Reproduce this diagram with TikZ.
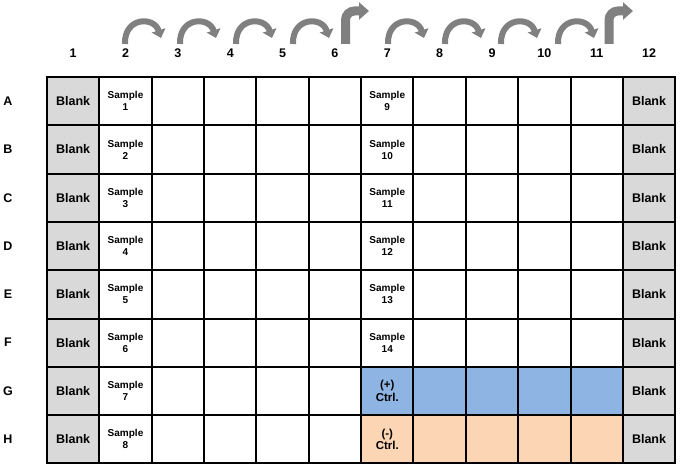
\documentclass[tikz,border=0pt]{standalone}
\usepackage{fontspec}
\setmainfont{Liberation Sans}
\usetikzlibrary{arrows.meta}
\definecolor{blankgray}{RGB}{217,217,217}
\definecolor{ctrlblue}{RGB}{142,180,227}
\definecolor{ctrlpeach}{RGB}{252,213,181}
\definecolor{arrowgray}{RGB}{128,128,128}
\tikzset{
  cell/.style={draw=black,line width=2pt,minimum width=52.35pt,minimum height=48.3pt,inner sep=0pt,outer sep=0pt,align=center,font=\fontsize{12.5}{14}\selectfont\bfseries},
  blankcell/.style={cell,fill=blankgray},
  samplecell/.style={cell,fill=white,font=\fontsize{10}{12}\selectfont\bfseries},
  pluscell/.style={cell,fill=ctrlblue,font=\fontsize{11.5}{12.5}\selectfont\bfseries},
  minuscell/.style={cell,fill=ctrlpeach,font=\fontsize{11.5}{12.5}\selectfont\bfseries},
  emptycell/.style={cell,fill=white},
  axislabel/.style={font=\fontsize{12.5}{14}\selectfont\bfseries,inner sep=0pt},
  curvearrow/.style={draw=arrowgray,line width=6pt,-{Triangle[width=14pt,length=8pt]}},
  bentarrow/.style={draw=arrowgray,line width=9pt,rounded corners=9pt,-{Triangle[width=17pt,length=10pt]}}
}
\begin{document}
\begin{tikzpicture}[x=1pt,y=-1pt]
\useasboundingbox (0,0) rectangle (680,468);
% column labels
\foreach \c in {1,...,12}{
  \node[axislabel] (col\c) at ({47+(\c-0.5)*52.35},53) {\c};
}
% row labels
\foreach \R [count=\r] in {A,B,C,D,E,F,G,H}{
  \node[axislabel] (row\R) at (8,{77+(\r-0.5)*48.3}) {\R};
}
% cells
\foreach \r in {1,...,8}{
  \foreach \c in {3,4,5,6}{
    \node[emptycell] (c\r-\c) at ({47+(\c-0.5)*52.35},{77+(\r-0.5)*48.3}) {};
  }
  \node[blankcell] (c\r-1) at ({47+0.5*52.35},{77+(\r-0.5)*48.3}) {Blank};
  \node[blankcell] (c\r-12) at ({47+11.5*52.35},{77+(\r-0.5)*48.3}) {Blank};
  \node[samplecell] (c\r-2) at ({47+1.5*52.35},{77+(\r-0.5)*48.3}) {Sample\\\r};
}
\foreach \r [evaluate=\r as \s using int(\r+8)] in {1,...,6}{
  \node[samplecell] (c\r-7) at ({47+6.5*52.35},{77+(\r-0.5)*48.3}) {Sample\\\s};
  \foreach \c in {8,9,10,11}{
    \node[emptycell] (c\r-\c) at ({47+(\c-0.5)*52.35},{77+(\r-0.5)*48.3}) {};
  }
}
\node[pluscell] (c7-7) at ({47+6.5*52.35},{77+6.5*48.3}) {(+)\\Ctrl.};
\node[minuscell] (c8-7) at ({47+6.5*52.35},{77+7.5*48.3}) {(-)\\Ctrl.};
\foreach \c in {8,9,10,11}{
  \node[pluscell] (c7-\c) at ({47+(\c-0.5)*52.35},{77+6.5*48.3}) {};
  \node[minuscell] (c8-\c) at ({47+(\c-0.5)*52.35},{77+7.5*48.3}) {};
}
% curved arrows
\foreach \x in {125,180,236,293,388,445,501,558}{
  \draw[curvearrow] (\x,44) .. controls (\x-1,17) and (\x+29,16) .. (\x+36,38);
}
% bent arrows
\coordinate (b1s) at (345.5,44);
\coordinate (b1e) at (369,11);
\coordinate (b2s) at (609,44);
\coordinate (b2e) at (633,11);
\draw[bentarrow] (b1s) |- (b1e);
\draw[bentarrow] (b2s) |- (b2e);
\end{tikzpicture}
\end{document}
